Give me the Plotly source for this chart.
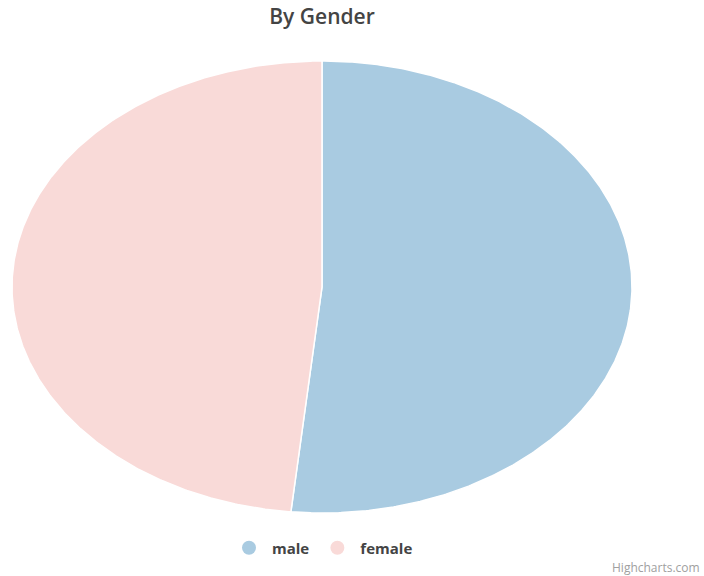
import numpy as np
import plotly.graph_objects as go

categories = ["male", "female"]
values = [51.6, 48.4]
colors = ["#a9cbe1", "#f9dad8"]

W, H = 704, 576
left, right, top, bottom = 12, 632, 61, 513

fig = go.Figure()
total = sum(values)
start = 0.0
for name, v, c in zip(categories, values, colors):
    frac = v / total
    th = np.linspace(start, start + frac * 2 * np.pi, 400)
    xs = np.concatenate([[0], np.sin(th), [0]])
    ys = np.concatenate([[0], np.cos(th), [0]])
    fig.add_trace(go.Scatter(
        x=xs, y=ys, mode="lines", fill="toself", fillcolor=c,
        line=dict(color="#ffffff", width=1.5), name=name, showlegend=False,
        hoverinfo="text", text=f"{name}: {v}%", hoveron="fills"))
    start += frac * 2 * np.pi

for name, c in zip(categories, colors):
    fig.add_trace(go.Scatter(x=[None], y=[None], mode="markers", name=name,
                             marker=dict(color=c, size=14, symbol="circle")))

fig.update_layout(
    width=W, height=H,
    margin=dict(l=left, r=W - right, t=top, b=H - bottom, pad=0),
    paper_bgcolor="white", plot_bgcolor="white",
    xaxis=dict(range=[-1, 1], visible=False, fixedrange=True),
    yaxis=dict(range=[-1, 1], visible=False, fixedrange=True),
    font=dict(family="Open Sans, DejaVu Sans, sans-serif", color="#333333"),
    title=dict(text="By Gender", x=0.5, xref="paper", xanchor="center",
               y=1 - 17 / H, yref="container", yanchor="middle",
               font=dict(size=21, color="#444444", weight=600)),
    legend=dict(orientation="h", x=0.5, xanchor="center",
                y=(bottom - 548) / (bottom - top), yanchor="middle",
                font=dict(size=15, color="#444444", weight="bold"),
                itemwidth=36, tracegroupgap=0),
    annotations=[dict(text="Highcharts.com", xref="paper", yref="paper",
                      x=(702 - left) / (right - left), y=(bottom - 567) / (bottom - top),
                      xanchor="right", yanchor="middle", showarrow=False,
                      font=dict(size=12, color="#a0a0a0"))],
)

fig.write_html("out.html")
